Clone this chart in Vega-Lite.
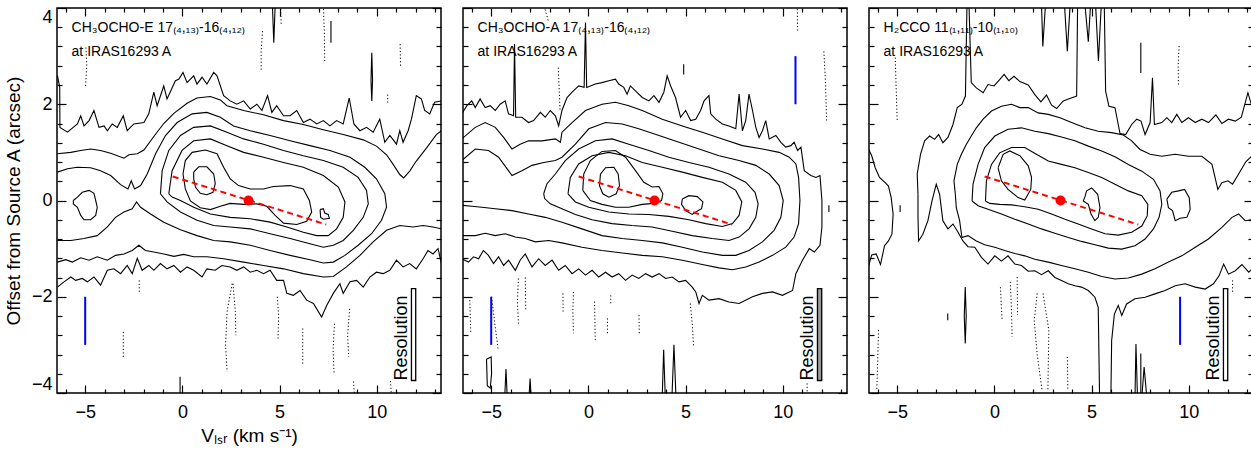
{
"$schema":"https://vega.github.io/schema/vega-lite/v6.json",
"padding":{"left":3,"top":6,"right":0,"bottom":0},
"spacing":18,
"config":{"view":{"stroke":"black","strokeWidth":1.5},"axis":{"domain":false,"grid":false,"labelColor":"black","tickColor":"black","labelFont":"Liberation Sans","titleFont":"Liberation Sans","labelFontSize":18,"titleFontSize":19,"titleFontWeight":"normal","titleColor":"black","tickWidth":1.2,"labelOverlap":false,"labelBound":false},"text":{"font":"Liberation Sans"}},
"datasets":{
"red":[{"x":-0.5,"y":0.5},{"x":7.4,"y":-0.5}],
"dot":[{"x":3.4,"y":0}],
"res":[{"x":11.78,"x2":12.0,"y":-3.74,"y2":-1.83,"t":"Resolution","tx":11.53}],
"b1":[{"x":-5,"y":-2,"y2":-3}],
"b2":[{"x":10.65,"y":3,"y2":2},{"x":-5,"y":-2,"y2":-3}],
"b3":[{"x":9.55,"y":-2,"y2":-3}],
"t1":[{"t":"CH₃OCHO-E 17₍₄,₁₃₎-16₍₄,₁₂₎","x":-5.7,"y":3.5},{"t":"at IRAS16293 A","x":-5.7,"y":3.0}],
"t2":[{"t":"CH₃OCHO-A 17₍₄,₁₃₎-16₍₄,₁₂₎","x":-5.7,"y":3.5},{"t":"at IRAS16293 A","x":-5.7,"y":3.0}],
"t3":[{"t":"H₂CCO 11₍₁,₁₁₎-10₍₁,₁₀₎","x":-5.7,"y":3.5},{"t":"at IRAS16293 A","x":-5.7,"y":3.0}],
"c1":[
{"k":"At","x":-6.43,"y":2.6},{"k":"At","x":-6.31,"y":2.35},{"k":"At","x":-6.3,"y":1.52},{"k":"At","x":-5.91,"y":1.42},{"k":"At","x":-5.4,"y":1.59},{"k":"At","x":-5.23,"y":1.76},{"k":"At","x":-5.06,"y":1.55},{"k":"At","x":-4.8,"y":1.66},{"k":"At","x":-4.55,"y":1.87},{"k":"At","x":-4.29,"y":1.52},{"k":"At","x":-4.03,"y":1.55},{"k":"At","x":-3.86,"y":1.45},{"k":"At","x":-3.61,"y":1.59},{"k":"At","x":-3.35,"y":1.52},{"k":"At","x":-3.04,"y":1.76},{"k":"At","x":-2.84,"y":1.45},{"k":"At","x":-2.5,"y":1.59},{"k":"At","x":-1.98,"y":1.62},{"k":"At","x":-1.73,"y":1.8},{"k":"At","x":-1.47,"y":2.25},{"k":"At","x":-1.3,"y":1.97},{"k":"At","x":-0.96,"y":2.38},{"k":"At","x":-0.79,"y":2.11},{"k":"At","x":-0.36,"y":2.49},{"k":"At","x":-0.19,"y":2.52},{"k":"At","x":0.03,"y":2.66},{"k":"At","x":0.24,"y":2.45},{"k":"At","x":0.58,"y":2.59},{"k":"At","x":0.75,"y":2.42},{"k":"At","x":1.01,"y":2.56},{"k":"At","x":1.26,"y":2.42},{"k":"At","x":1.61,"y":2.66},{"k":"At","x":1.78,"y":2.59},{"k":"At","x":2.12,"y":2.18},{"k":"At","x":2.46,"y":2.07},{"k":"At","x":2.8,"y":2.0},{"k":"At","x":3.15,"y":2.07},{"k":"At","x":3.49,"y":1.9},{"k":"At","x":3.83,"y":2.0},{"k":"At","x":4.09,"y":1.87},{"k":"At","x":4.38,"y":2.18},{"k":"At","x":4.6,"y":1.83},{"k":"At","x":4.85,"y":1.97},{"k":"At","x":5.2,"y":1.76},{"k":"At","x":5.54,"y":1.76},{"k":"At","x":5.88,"y":1.87},{"k":"At","x":6.22,"y":1.62},{"k":"At","x":6.56,"y":1.69},{"k":"At","x":6.91,"y":1.59},{"k":"At","x":7.25,"y":1.66},{"k":"At","x":7.59,"y":1.55},{"k":"At","x":7.93,"y":1.66},{"k":"At","x":8.27,"y":1.59},{"k":"At","x":8.58,"y":2.13},{"k":"At","x":8.82,"y":1.59},{"k":"At","x":9.13,"y":1.45},{"k":"At","x":9.47,"y":1.52},{"k":"At","x":9.81,"y":1.42},{"k":"At","x":10.15,"y":1.69},{"k":"At","x":10.41,"y":1.21},{"k":"At","x":10.67,"y":1.35},{"k":"At","x":11.01,"y":1.17},{"k":"At","x":11.18,"y":1.45},{"k":"At","x":11.35,"y":1.21},{"k":"At","x":11.61,"y":1.45},{"k":"At","x":11.78,"y":1.69},{"k":"At","x":12.03,"y":2.18},{"k":"At","x":12.29,"y":2.11},{"k":"At","x":12.46,"y":1.87},{"k":"At","x":12.72,"y":1.8},{"k":"At","x":12.97,"y":2.04},{"k":"At","x":13.32,"y":2.07},
{"k":"Ab","x":-6.43,"y":-1.8},{"k":"Ab","x":-6.09,"y":-1.69},{"k":"Ab","x":-5.74,"y":-1.59},{"k":"Ab","x":-5.49,"y":-1.66},{"k":"Ab","x":-5.15,"y":-1.62},{"k":"Ab","x":-4.89,"y":-1.69},{"k":"Ab","x":-4.55,"y":-1.59},{"k":"Ab","x":-4.21,"y":-1.76},{"k":"Ab","x":-3.86,"y":-1.45},{"k":"Ab","x":-3.52,"y":-1.42},{"k":"Ab","x":-3.18,"y":-1.52},{"k":"Ab","x":-2.84,"y":-1.35},{"k":"Ab","x":-2.58,"y":-1.52},{"k":"Ab","x":-2.32,"y":-1.2},{"k":"Ab","x":-2.07,"y":-1.45},{"k":"Ab","x":-1.73,"y":-1.35},{"k":"Ab","x":-1.47,"y":-1.45},{"k":"Ab","x":-1.13,"y":-1.31},{"k":"Ab","x":-0.79,"y":-1.42},{"k":"Ab","x":-0.44,"y":-1.35},{"k":"Ab","x":-0.1,"y":-1.49},{"k":"Ab","x":0.24,"y":-1.38},{"k":"Ab","x":0.58,"y":-1.45},{"k":"Ab","x":1.01,"y":-1.59},{"k":"Ab","x":1.26,"y":-1.42},{"k":"Ab","x":1.69,"y":-1.45},{"k":"Ab","x":2.03,"y":-1.35},{"k":"Ab","x":2.46,"y":-1.38},{"k":"Ab","x":2.8,"y":-1.45},{"k":"Ab","x":3.15,"y":-1.38},{"k":"Ab","x":3.49,"y":-1.49},{"k":"Ab","x":3.83,"y":-1.45},{"k":"Ab","x":4.17,"y":-1.52},{"k":"Ab","x":4.51,"y":-1.45},{"k":"Ab","x":4.85,"y":-1.66},{"k":"Ab","x":5.2,"y":-1.66},{"k":"Ab","x":5.37,"y":-1.93},{"k":"Ab","x":5.71,"y":-1.97},{"k":"Ab","x":6.05,"y":-1.87},{"k":"Ab","x":6.39,"y":-2.07},{"k":"Ab","x":6.74,"y":-2.14},{"k":"Ab","x":7.16,"y":-2.42},{"k":"Ab","x":7.42,"y":-2.18},{"k":"Ab","x":7.76,"y":-1.93},{"k":"Ab","x":8.1,"y":-1.73},{"k":"Ab","x":8.27,"y":-1.93},{"k":"Ab","x":8.62,"y":-1.69},{"k":"Ab","x":8.96,"y":-1.66},{"k":"Ab","x":9.3,"y":-1.8},{"k":"Ab","x":9.64,"y":-1.59},{"k":"Ab","x":9.98,"y":-1.49},{"k":"Ab","x":10.32,"y":-1.52},{"k":"Ab","x":10.67,"y":-1.45},{"k":"Ab","x":11.01,"y":-1.24},{"k":"Ab","x":11.35,"y":-1.38},{"k":"Ab","x":11.69,"y":-1.31},{"k":"Ab","x":12.03,"y":-1.42},{"k":"Ab","x":12.38,"y":-1.21},{"k":"Ab","x":12.63,"y":-1.04},{"k":"Ab","x":12.89,"y":-1.11},{"k":"Ab","x":13.15,"y":-1.0},{"k":"Ab","x":13.32,"y":-1.31},
{"k":"Bt","x":-6.43,"y":0.97},{"k":"Bt","x":-5.74,"y":1.0},{"k":"Bt","x":-5.23,"y":1.04},{"k":"Bt","x":-4.72,"y":1.07},{"k":"Bt","x":-4.21,"y":1.04},{"k":"Bt","x":-3.69,"y":0.98},{"k":"Bt","x":-3.01,"y":0.88},{"k":"Bt","x":-2.75,"y":0.95},{"k":"Bt","x":-2.32,"y":0.97},{"k":"Bt","x":-1.98,"y":1.05},{"k":"Bt","x":-1.47,"y":1.33},{"k":"Bt","x":-0.96,"y":1.6},{"k":"Bt","x":-0.44,"y":1.81},{"k":"Bt","x":0.24,"y":2.02},{"k":"Bt","x":0.75,"y":2.13},{"k":"Bt","x":1.44,"y":2.16},{"k":"Bt","x":1.95,"y":2.09},{"k":"Bt","x":2.29,"y":1.97},{"k":"Bt","x":3.15,"y":1.87},{"k":"Bt","x":4.17,"y":1.78},{"k":"Bt","x":5.2,"y":1.66},{"k":"Bt","x":6.22,"y":1.58},{"k":"Bt","x":7.25,"y":1.47},{"k":"Bt","x":8.27,"y":1.37},{"k":"Bt","x":9.3,"y":1.26},{"k":"Bt","x":9.98,"y":1.13},{"k":"Bt","x":10.5,"y":0.95},{"k":"Bt","x":10.84,"y":0.75},{"k":"Bt","x":11.18,"y":0.54},{"k":"Bt","x":11.38,"y":0.47},{"k":"Bt","x":11.69,"y":0.61},{"k":"Bt","x":12.03,"y":0.82},{"k":"Bt","x":12.55,"y":1.09},{"k":"Bt","x":13.06,"y":1.37},{"k":"Bt","x":13.32,"y":1.45},
{"k":"Bb","x":-6.43,"y":-1.28},{"k":"Bb","x":-6.0,"y":-1.23},{"k":"Bb","x":-5.66,"y":-1.28},{"k":"Bb","x":-5.23,"y":-1.19},{"k":"Bb","x":-4.8,"y":-1.24},{"k":"Bb","x":-4.38,"y":-1.17},{"k":"Bb","x":-3.86,"y":-1.24},{"k":"Bb","x":-3.44,"y":-1.14},{"k":"Bb","x":-3.01,"y":-1.11},{"k":"Bb","x":-2.58,"y":-1.04},{"k":"Bb","x":-2.24,"y":-0.93},{"k":"Bb","x":-1.9,"y":-1.04},{"k":"Bb","x":-1.47,"y":-1.07},{"k":"Bb","x":-0.96,"y":-1.11},{"k":"Bb","x":-0.44,"y":-1.16},{"k":"Bb","x":0.07,"y":-1.12},{"k":"Bb","x":0.58,"y":-1.17},{"k":"Bb","x":1.26,"y":-1.17},{"k":"Bb","x":2.12,"y":-1.21},{"k":"Bb","x":3.15,"y":-1.28},{"k":"Bb","x":4.17,"y":-1.35},{"k":"Bb","x":5.2,"y":-1.42},{"k":"Bb","x":6.22,"y":-1.52},{"k":"Bb","x":7.25,"y":-1.59},{"k":"Bb","x":7.76,"y":-1.58},{"k":"Bb","x":8.44,"y":-1.38},{"k":"Bb","x":9.13,"y":-1.14},{"k":"Bb","x":9.81,"y":-0.86},{"k":"Bb","x":10.5,"y":-0.62},{"k":"Bb","x":11.18,"y":-0.52},{"k":"Bb","x":11.86,"y":-0.55},{"k":"Bb","x":12.38,"y":-0.52},{"k":"Bb","x":12.89,"y":-0.55},{"k":"Bb","x":13.32,"y":-0.59},
{"k":"C","x":-6.43,"y":0.59},{"k":"C","x":-5.91,"y":0.66},{"k":"C","x":-5.4,"y":0.69},{"k":"C","x":-4.72,"y":0.68},{"k":"C","x":-4.21,"y":0.62},{"k":"C","x":-3.69,"y":0.52},{"k":"C","x":-3.18,"y":0.33},{"k":"C","x":-2.8,"y":0.24},{"k":"C","x":-2.63,"y":0.41},{"k":"C","x":-2.46,"y":0.24},{"k":"C","x":-2.15,"y":0.31},{"k":"C","x":-1.81,"y":0.55},{"k":"C","x":-1.38,"y":0.97},{"k":"C","x":-0.87,"y":1.35},{"k":"C","x":-0.27,"y":1.62},{"k":"C","x":0.5,"y":1.8},{"k":"C","x":1.26,"y":1.83},{"k":"C","x":1.95,"y":1.73},{"k":"C","x":2.63,"y":1.55},{"k":"C","x":3.49,"y":1.45},{"k":"C","x":4.51,"y":1.35},{"k":"C","x":5.54,"y":1.24},{"k":"C","x":6.56,"y":1.14},{"k":"C","x":7.59,"y":1.04},{"k":"C","x":8.62,"y":0.9},{"k":"C","x":9.38,"y":0.69},{"k":"C","x":9.98,"y":0.45},{"k":"C","x":10.41,"y":0.14},{"k":"C","x":10.5,"y":-0.14},{"k":"C","x":10.24,"y":-0.41},{"k":"C","x":9.73,"y":-0.69},{"k":"C","x":9.04,"y":-0.93},{"k":"C","x":8.36,"y":-1.14},{"k":"C","x":7.76,"y":-1.28},{"k":"C","x":7.25,"y":-1.3},{"k":"C","x":6.56,"y":-1.23},{"k":"C","x":5.54,"y":-1.14},{"k":"C","x":4.51,"y":-1.04},{"k":"C","x":3.49,"y":-0.93},{"k":"C","x":2.46,"y":-0.86},{"k":"C","x":1.61,"y":-0.83},{"k":"C","x":0.75,"y":-0.73},{"k":"C","x":-0.1,"y":-0.61},{"k":"C","x":-0.96,"y":-0.45},{"k":"C","x":-1.64,"y":-0.28},{"k":"C","x":-2.15,"y":-0.14},{"k":"C","x":-2.36,"y":-0.03},{"k":"C","x":-2.58,"y":-0.17},{"k":"C","x":-3.01,"y":-0.24},{"k":"C","x":-3.44,"y":-0.35},{"k":"C","x":-3.86,"y":-0.55},{"k":"C","x":-4.38,"y":-0.73},{"k":"C","x":-5.06,"y":-0.79},{"k":"C","x":-5.74,"y":-0.83},{"k":"C","x":-6.43,"y":-0.83},
{"k":"D","x":-1.13,"y":0.14},{"k":"D","x":-1.04,"y":0.62},{"k":"D","x":-0.7,"y":1.04},{"k":"D","x":-0.1,"y":1.35},{"k":"D","x":0.58,"y":1.52},{"k":"D","x":1.44,"y":1.55},{"k":"D","x":2.29,"y":1.42},{"k":"D","x":3.15,"y":1.28},{"k":"D","x":4.17,"y":1.17},{"k":"D","x":5.2,"y":1.04},{"k":"D","x":6.22,"y":0.93},{"k":"D","x":7.25,"y":0.83},{"k":"D","x":8.27,"y":0.69},{"k":"D","x":9.04,"y":0.48},{"k":"D","x":9.47,"y":0.21},{"k":"D","x":9.56,"y":-0.07},{"k":"D","x":9.3,"y":-0.35},{"k":"D","x":8.79,"y":-0.62},{"k":"D","x":8.27,"y":-0.83},{"k":"D","x":7.76,"y":-0.93},{"k":"D","x":7.25,"y":-0.97},{"k":"D","x":6.56,"y":-0.9},{"k":"D","x":5.54,"y":-0.79},{"k":"D","x":4.51,"y":-0.69},{"k":"D","x":3.49,"y":-0.59},{"k":"D","x":2.46,"y":-0.55},{"k":"D","x":1.61,"y":-0.52},{"k":"D","x":0.75,"y":-0.41},{"k":"D","x":-0.1,"y":-0.24},{"k":"D","x":-0.79,"y":-0.03},{"k":"D","x":-1.13,"y":0.14},
{"k":"E","x":-0.7,"y":0.14},{"k":"E","x":-0.53,"y":0.62},{"k":"E","x":-0.02,"y":1.04},{"k":"E","x":0.58,"y":1.24},{"k":"E","x":1.44,"y":1.28},{"k":"E","x":2.29,"y":1.14},{"k":"E","x":3.15,"y":1.0},{"k":"E","x":4.17,"y":0.9},{"k":"E","x":5.2,"y":0.79},{"k":"E","x":6.22,"y":0.69},{"k":"E","x":7.25,"y":0.52},{"k":"E","x":8.02,"y":0.28},{"k":"E","x":8.36,"y":-0.03},{"k":"E","x":8.27,"y":-0.35},{"k":"E","x":7.93,"y":-0.59},{"k":"E","x":7.5,"y":-0.73},{"k":"E","x":6.91,"y":-0.73},{"k":"E","x":6.22,"y":-0.66},{"k":"E","x":5.37,"y":-0.55},{"k":"E","x":4.51,"y":-0.45},{"k":"E","x":3.49,"y":-0.38},{"k":"E","x":2.46,"y":-0.35},{"k":"E","x":1.44,"y":-0.28},{"k":"E","x":0.58,"y":-0.14},{"k":"E","x":-0.1,"y":0.0},{"k":"E","x":-0.53,"y":0.07},{"k":"E","x":-0.7,"y":0.14},
{"k":"F","x":0.03,"y":0.55},{"k":"F","x":0.15,"y":0.83},{"k":"F","x":0.5,"y":1.0},{"k":"F","x":1.18,"y":1.05},{"k":"F","x":1.78,"y":0.97},{"k":"F","x":2.12,"y":0.69},{"k":"F","x":2.46,"y":0.45},{"k":"F","x":2.89,"y":0.31},{"k":"F","x":3.49,"y":0.24},{"k":"F","x":4.17,"y":0.24},{"k":"F","x":4.68,"y":0.29},{"k":"F","x":5.54,"y":0.31},{"k":"F","x":6.22,"y":0.24},{"k":"F","x":6.53,"y":0.0},{"k":"F","x":6.65,"y":-0.24},{"k":"F","x":6.39,"y":-0.43},{"k":"F","x":5.88,"y":-0.5},{"k":"F","x":5.2,"y":-0.47},{"k":"F","x":4.77,"y":-0.31},{"k":"F","x":4.34,"y":-0.12},{"k":"F","x":3.83,"y":-0.07},{"k":"F","x":3.15,"y":-0.08},{"k":"F","x":2.46,"y":-0.06},{"k":"F","x":1.95,"y":-0.12},{"k":"F","x":1.44,"y":-0.19},{"k":"F","x":0.92,"y":-0.15},{"k":"F","x":0.41,"y":-0.01},{"k":"F","x":0.15,"y":0.24},{"k":"F","x":0.03,"y":0.55},
{"k":"G1","x":0.58,"y":0.59},{"k":"G1","x":0.84,"y":0.7},{"k":"G1","x":1.26,"y":0.7},{"k":"G1","x":1.61,"y":0.55},{"k":"G1","x":1.69,"y":0.35},{"k":"G1","x":1.57,"y":0.17},{"k":"G1","x":1.26,"y":0.12},{"k":"G1","x":0.92,"y":0.15},{"k":"G1","x":0.67,"y":0.28},{"k":"G1","x":0.58,"y":0.45},{"k":"G1","x":0.58,"y":0.59},
{"k":"G2","x":7.08,"y":-0.19},{"k":"G2","x":7.25,"y":-0.17},{"k":"G2","x":7.32,"y":-0.26},{"k":"G2","x":7.5,"y":-0.29},{"k":"G2","x":7.56,"y":-0.37},{"k":"G2","x":7.25,"y":-0.39},{"k":"G2","x":7.11,"y":-0.35},{"k":"G2","x":7.08,"y":-0.19},
{"k":"I","x":-5.61,"y":0.0},{"k":"I","x":-5.4,"y":0.07},{"k":"I","x":-5.15,"y":0.17},{"k":"I","x":-4.8,"y":0.21},{"k":"I","x":-4.55,"y":0.15},{"k":"I","x":-4.46,"y":0.0},{"k":"I","x":-4.38,"y":-0.14},{"k":"I","x":-4.46,"y":-0.31},{"k":"I","x":-4.72,"y":-0.4},{"k":"I","x":-5.06,"y":-0.4},{"k":"I","x":-5.23,"y":-0.31},{"k":"I","x":-5.4,"y":-0.14},{"k":"I","x":-5.61,"y":-0.07},{"k":"I","x":-5.61,"y":0.0},
{"k":"s1","x":4.63,"y":4.05},{"k":"s1","x":4.7,"y":3.28},{"k":"s1","x":4.77,"y":4.05},
{"k":"s2","x":7.64,"y":3.73},{"k":"s2","x":7.64,"y":3.28},
{"k":"s3","x":9.74,"y":3.07},{"k":"s3","x":9.78,"y":2.5},{"k":"s3","x":9.74,"y":2.07},{"k":"s3","x":9.7,"y":2.5},{"k":"s3","x":9.74,"y":3.07},
{"k":"s4","x":-0.12,"y":-3.66},{"k":"s4","x":-0.12,"y":-4.05}
],
"n1":[
{"k":"d1","x":-4.96,"y":3.18},{"k":"d1","x":-4.92,"y":2.8},{"k":"d1","x":-4.98,"y":2.38},
{"k":"d2","x":4.12,"y":3.52},{"k":"d2","x":4.05,"y":3.1},{"k":"d2","x":4.05,"y":2.69},
{"k":"d3","x":5.05,"y":4.05},{"k":"d3","x":5.08,"y":3.66},
{"k":"d4","x":7.25,"y":4.05},{"k":"d4","x":7.3,"y":3.5},{"k":"d4","x":7.32,"y":2.9},
{"k":"d5","x":11.2,"y":3.25},{"k":"d5","x":11.22,"y":2.76},
{"k":"d6","x":10.56,"y":2.2},{"k":"d6","x":10.56,"y":2.0},
{"k":"d7","x":-2.22,"y":-1.66},{"k":"d7","x":-2.22,"y":-1.93},
{"k":"d8","x":-3.04,"y":-2.73},{"k":"d8","x":-3.04,"y":-3.25},
{"k":"d9","x":2.56,"y":-1.73},{"k":"d9","x":2.3,"y":-2.3},{"k":"d9","x":2.22,"y":-3.0},{"k":"d9","x":2.3,"y":-3.56},
{"k":"d9b","x":2.6,"y":-1.73},{"k":"d9b","x":2.72,"y":-2.3},{"k":"d9b","x":2.75,"y":-2.8},
{"k":"d10","x":4.88,"y":-2.0},{"k":"d10","x":4.95,"y":-2.4},{"k":"d10","x":4.92,"y":-2.87},
{"k":"d11","x":6.19,"y":-2.66},{"k":"d11","x":6.19,"y":-3.42},
{"k":"d12","x":7.82,"y":-2.56},{"k":"d12","x":7.75,"y":-3.1},{"k":"d12","x":7.8,"y":-3.6},
{"k":"d13","x":8.6,"y":-2.25},{"k":"d13","x":8.5,"y":-2.8},{"k":"d13","x":8.55,"y":-3.25},
{"k":"d14","x":8.8,"y":-3.76},{"k":"d14","x":8.85,"y":-4.05},
{"k":"d15","x":10.7,"y":-3.75},{"k":"d15","x":10.75,"y":-4.05}
],
"c2":[
{"k":"A","x":-6.51,"y":1.8},{"k":"A","x":-6.25,"y":1.97},{"k":"A","x":-6.0,"y":2.07},{"k":"A","x":-5.82,"y":1.93},{"k":"A","x":-5.57,"y":2.11},{"k":"A","x":-5.31,"y":1.93},{"k":"A","x":-5.05,"y":1.97},{"k":"A","x":-4.79,"y":1.87},{"k":"A","x":-4.54,"y":2.0},{"k":"A","x":-4.28,"y":2.07},{"k":"A","x":-4.11,"y":1.8},{"k":"A","x":-3.85,"y":1.76},{"k":"A","x":-3.8,"y":3.25},{"k":"A","x":-3.74,"y":1.73},{"k":"A","x":-3.42,"y":1.73},{"k":"A","x":-3.08,"y":1.62},{"k":"A","x":-2.82,"y":1.66},{"k":"A","x":-2.47,"y":1.83},{"k":"A","x":-2.22,"y":1.73},{"k":"A","x":-1.96,"y":1.87},{"k":"A","x":-1.7,"y":1.76},{"k":"A","x":-1.53,"y":1.55},{"k":"A","x":-1.36,"y":1.87},{"k":"A","x":-1.1,"y":2.14},{"k":"A","x":-0.84,"y":2.25},{"k":"A","x":-0.5,"y":2.38},{"k":"A","x":-0.22,"y":2.35},{"k":"A","x":-0.15,"y":3.7},{"k":"A","x":-0.09,"y":2.35},{"k":"A","x":0.36,"y":2.42},{"k":"A","x":0.7,"y":2.45},{"k":"A","x":1.05,"y":2.49},{"k":"A","x":1.39,"y":2.52},{"k":"A","x":1.56,"y":2.42},{"k":"A","x":1.82,"y":2.35},{"k":"A","x":1.99,"y":2.21},{"k":"A","x":2.16,"y":2.38},{"k":"A","x":2.42,"y":2.28},{"k":"A","x":2.77,"y":2.14},{"k":"A","x":3.11,"y":2.07},{"k":"A","x":3.37,"y":2.18},{"k":"A","x":3.63,"y":2.04},{"k":"A","x":3.88,"y":2.25},{"k":"A","x":4.05,"y":2.59},{"k":"A","x":4.23,"y":2.38},{"k":"A","x":4.48,"y":2.14},{"k":"A","x":4.74,"y":1.73},{"k":"A","x":5.0,"y":1.87},{"k":"A","x":5.26,"y":1.66},{"k":"A","x":5.52,"y":1.69},{"k":"A","x":5.77,"y":1.87},{"k":"A","x":5.95,"y":2.07},{"k":"A","x":6.2,"y":2.18},{"k":"A","x":6.29,"y":1.8},{"k":"A","x":6.55,"y":1.69},{"k":"A","x":6.89,"y":1.59},{"k":"A","x":7.23,"y":1.55},{"k":"A","x":7.58,"y":1.49},{"k":"A","x":7.75,"y":2.21},{"k":"A","x":7.92,"y":1.45},{"k":"A","x":8.09,"y":1.66},{"k":"A","x":8.26,"y":2.21},{"k":"A","x":8.44,"y":1.87},{"k":"A","x":8.61,"y":1.52},{"k":"A","x":8.78,"y":1.31},{"k":"A","x":8.95,"y":1.45},{"k":"A","x":9.12,"y":1.66},{"k":"A","x":9.3,"y":1.28},{"k":"A","x":9.64,"y":1.35},{"k":"A","x":9.9,"y":1.21},{"k":"A","x":10.15,"y":1.11},{"k":"A","x":10.41,"y":1.14},{"k":"A","x":10.58,"y":1.21},{"k":"A","x":10.76,"y":1.04},{"k":"A","x":10.93,"y":1.11},{"k":"A","x":11.1,"y":0.62},{"k":"A","x":11.44,"y":0.52},{"k":"A","x":11.7,"y":0.48},{"k":"A","x":11.91,"y":0.52},{"k":"A","x":12.01,"y":0.0},{"k":"A","x":12.01,"y":-0.55},{"k":"A","x":11.91,"y":-0.93},{"k":"A","x":11.62,"y":-1.07},{"k":"A","x":11.36,"y":-1.0},{"k":"A","x":11.01,"y":-1.24},{"k":"A","x":10.67,"y":-1.52},{"k":"A","x":10.5,"y":-1.87},{"k":"A","x":9.98,"y":-1.97},{"k":"A","x":9.47,"y":-1.9},{"k":"A","x":8.95,"y":-1.93},{"k":"A","x":8.44,"y":-2.0},{"k":"A","x":7.75,"y":-2.14},{"k":"A","x":7.23,"y":-2.11},{"k":"A","x":6.72,"y":-2.04},{"k":"A","x":6.2,"y":-2.07},{"k":"A","x":5.86,"y":-1.97},{"k":"A","x":5.69,"y":-2.14},{"k":"A","x":5.52,"y":-1.9},{"k":"A","x":5.34,"y":-1.8},{"k":"A","x":5.0,"y":-1.66},{"k":"A","x":4.66,"y":-1.69},{"k":"A","x":4.31,"y":-1.59},{"k":"A","x":3.97,"y":-1.62},{"k":"A","x":3.63,"y":-1.52},{"k":"A","x":3.28,"y":-1.59},{"k":"A","x":2.94,"y":-1.52},{"k":"A","x":2.59,"y":-1.62},{"k":"A","x":2.25,"y":-1.55},{"k":"A","x":1.91,"y":-1.66},{"k":"A","x":1.56,"y":-1.52},{"k":"A","x":1.22,"y":-1.59},{"k":"A","x":0.88,"y":-1.49},{"k":"A","x":0.53,"y":-1.59},{"k":"A","x":0.19,"y":-1.45},{"k":"A","x":-0.15,"y":-1.55},{"k":"A","x":-0.5,"y":-1.42},{"k":"A","x":-0.84,"y":-1.52},{"k":"A","x":-1.19,"y":-1.35},{"k":"A","x":-1.53,"y":-1.45},{"k":"A","x":-1.87,"y":-1.24},{"k":"A","x":-2.22,"y":-1.35},{"k":"A","x":-2.56,"y":-1.21},{"k":"A","x":-2.9,"y":-1.38},{"k":"A","x":-3.25,"y":-1.11},{"k":"A","x":-3.51,"y":-1.24},{"k":"A","x":-3.76,"y":-1.45},{"k":"A","x":-4.11,"y":-1.24},{"k":"A","x":-4.36,"y":-1.35},{"k":"A","x":-4.62,"y":-1.17},{"k":"A","x":-4.88,"y":-1.31},{"k":"A","x":-5.14,"y":-1.14},{"k":"A","x":-5.4,"y":-1.04},{"k":"A","x":-5.65,"y":-1.21},{"k":"A","x":-5.91,"y":-1.17},{"k":"A","x":-6.17,"y":-1.28},{"k":"A","x":-6.51,"y":-1.21},
{"k":"B","x":-6.51,"y":1.28},{"k":"B","x":-5.82,"y":1.52},{"k":"B","x":-5.31,"y":1.62},{"k":"B","x":-4.79,"y":1.52},{"k":"B","x":-4.36,"y":1.31},{"k":"B","x":-3.93,"y":1.07},{"k":"B","x":-3.51,"y":1.17},{"k":"B","x":-3.08,"y":1.24},{"k":"B","x":-2.39,"y":1.24},{"k":"B","x":-1.7,"y":1.28},{"k":"B","x":-1.44,"y":1.21},{"k":"B","x":-1.36,"y":1.42},{"k":"B","x":-0.84,"y":1.62},{"k":"B","x":-0.15,"y":1.87},{"k":"B","x":0.7,"y":2.0},{"k":"B","x":1.39,"y":2.04},{"k":"B","x":2.08,"y":1.97},{"k":"B","x":2.77,"y":1.87},{"k":"B","x":3.8,"y":1.69},{"k":"B","x":4.83,"y":1.55},{"k":"B","x":5.86,"y":1.42},{"k":"B","x":6.89,"y":1.28},{"k":"B","x":7.92,"y":1.14},{"k":"B","x":8.95,"y":1.07},{"k":"B","x":9.81,"y":1.0},{"k":"B","x":10.33,"y":0.9},{"k":"B","x":10.67,"y":0.76},{"k":"B","x":10.81,"y":0.48},{"k":"B","x":10.88,"y":0.0},{"k":"B","x":10.81,"y":-0.48},{"k":"B","x":10.58,"y":-0.76},{"k":"B","x":10.15,"y":-0.97},{"k":"B","x":9.47,"y":-1.14},{"k":"B","x":8.78,"y":-1.28},{"k":"B","x":8.09,"y":-1.38},{"k":"B","x":7.41,"y":-1.44},{"k":"B","x":6.72,"y":-1.4},{"k":"B","x":5.86,"y":-1.33},{"k":"B","x":4.83,"y":-1.24},{"k":"B","x":3.8,"y":-1.17},{"k":"B","x":2.77,"y":-1.14},{"k":"B","x":1.74,"y":-1.09},{"k":"B","x":0.7,"y":-1.04},{"k":"B","x":-0.33,"y":-0.97},{"k":"B","x":-1.36,"y":-0.88},{"k":"B","x":-2.04,"y":-0.83},{"k":"B","x":-2.73,"y":-0.86},{"k":"B","x":-3.25,"y":-0.79},{"k":"B","x":-3.76,"y":-0.76},{"k":"B","x":-4.28,"y":-0.69},{"k":"B","x":-4.79,"y":-0.73},{"k":"B","x":-5.31,"y":-0.68},{"k":"B","x":-5.82,"y":-0.73},{"k":"B","x":-6.51,"y":-0.73},
{"k":"C","x":-6.51,"y":0.83},{"k":"C","x":-5.82,"y":1.07},{"k":"C","x":-5.14,"y":1.04},{"k":"C","x":-4.62,"y":0.9},{"k":"C","x":-3.93,"y":0.52},{"k":"C","x":-3.42,"y":0.62},{"k":"C","x":-2.9,"y":0.73},{"k":"C","x":-2.3,"y":0.79},{"k":"C","x":-1.7,"y":0.83},{"k":"C","x":-1.36,"y":0.9},{"k":"C","x":-0.67,"y":1.17},{"k":"C","x":0.02,"y":1.49},{"k":"C","x":0.88,"y":1.62},{"k":"C","x":1.74,"y":1.59},{"k":"C","x":2.59,"y":1.49},{"k":"C","x":3.63,"y":1.35},{"k":"C","x":4.66,"y":1.21},{"k":"C","x":5.69,"y":1.07},{"k":"C","x":6.72,"y":0.93},{"k":"C","x":7.75,"y":0.83},{"k":"C","x":8.61,"y":0.73},{"k":"C","x":9.3,"y":0.55},{"k":"C","x":9.81,"y":0.31},{"k":"C","x":10.02,"y":0.0},{"k":"C","x":9.9,"y":-0.35},{"k":"C","x":9.55,"y":-0.62},{"k":"C","x":8.95,"y":-0.86},{"k":"C","x":8.26,"y":-1.04},{"k":"C","x":7.58,"y":-1.14},{"k":"C","x":6.89,"y":-1.14},{"k":"C","x":5.86,"y":-1.07},{"k":"C","x":4.83,"y":-0.97},{"k":"C","x":3.8,"y":-0.88},{"k":"C","x":2.77,"y":-0.83},{"k":"C","x":1.74,"y":-0.79},{"k":"C","x":0.7,"y":-0.73},{"k":"C","x":-0.33,"y":-0.59},{"k":"C","x":-1.36,"y":-0.45},{"k":"C","x":-2.22,"y":-0.35},{"k":"C","x":-3.08,"y":-0.28},{"k":"C","x":-3.93,"y":-0.21},{"k":"C","x":-4.79,"y":-0.17},{"k":"C","x":-5.48,"y":-0.14},{"k":"C","x":-6.0,"y":-0.12},{"k":"C","x":-6.51,"y":-0.1},
{"k":"D","x":-2.3,"y":0.14},{"k":"D","x":-2.13,"y":0.35},{"k":"D","x":-1.7,"y":0.55},{"k":"D","x":-1.19,"y":0.83},{"k":"D","x":-0.5,"y":1.07},{"k":"D","x":0.36,"y":1.24},{"k":"D","x":1.22,"y":1.28},{"k":"D","x":2.08,"y":1.17},{"k":"D","x":3.11,"y":1.04},{"k":"D","x":4.14,"y":0.9},{"k":"D","x":5.17,"y":0.79},{"k":"D","x":6.2,"y":0.69},{"k":"D","x":7.23,"y":0.55},{"k":"D","x":8.09,"y":0.38},{"k":"D","x":8.57,"y":0.17},{"k":"D","x":8.73,"y":-0.07},{"k":"D","x":8.61,"y":-0.35},{"k":"D","x":8.26,"y":-0.59},{"k":"D","x":7.75,"y":-0.76},{"k":"D","x":7.23,"y":-0.83},{"k":"D","x":6.37,"y":-0.79},{"k":"D","x":5.34,"y":-0.73},{"k":"D","x":4.31,"y":-0.64},{"k":"D","x":3.28,"y":-0.55},{"k":"D","x":2.25,"y":-0.52},{"k":"D","x":1.22,"y":-0.48},{"k":"D","x":0.19,"y":-0.4},{"k":"D","x":-0.67,"y":-0.29},{"k":"D","x":-1.36,"y":-0.17},{"k":"D","x":-1.96,"y":-0.07},{"k":"D","x":-2.25,"y":0.04},{"k":"D","x":-2.3,"y":0.14},
{"k":"E","x":-1.05,"y":0.14},{"k":"E","x":-0.93,"y":0.48},{"k":"E","x":-0.5,"y":0.76},{"k":"E","x":0.19,"y":0.93},{"k":"E","x":1.05,"y":1.0},{"k":"E","x":1.91,"y":0.93},{"k":"E","x":2.77,"y":0.79},{"k":"E","x":3.8,"y":0.69},{"k":"E","x":4.83,"y":0.59},{"k":"E","x":5.86,"y":0.48},{"k":"E","x":6.89,"y":0.38},{"k":"E","x":7.58,"y":0.21},{"k":"E","x":7.89,"y":-0.03},{"k":"E","x":7.75,"y":-0.31},{"k":"E","x":7.41,"y":-0.48},{"k":"E","x":6.89,"y":-0.54},{"k":"E","x":6.03,"y":-0.48},{"k":"E","x":5.17,"y":-0.4},{"k":"E","x":4.14,"y":-0.33},{"k":"E","x":3.11,"y":-0.29},{"k":"E","x":2.08,"y":-0.28},{"k":"E","x":1.05,"y":-0.24},{"k":"E","x":0.02,"y":-0.14},{"k":"E","x":-0.67,"y":-0.03},{"k":"E","x":-1.05,"y":0.14},
{"k":"F","x":-0.29,"y":0.21},{"k":"F","x":-0.24,"y":0.55},{"k":"F","x":0.1,"y":0.83},{"k":"F","x":0.7,"y":1.02},{"k":"F","x":1.39,"y":1.04},{"k":"F","x":1.91,"y":0.9},{"k":"F","x":2.42,"y":0.62},{"k":"F","x":2.85,"y":0.38},{"k":"F","x":3.28,"y":0.28},{"k":"F","x":3.63,"y":0.29},{"k":"F","x":3.83,"y":0.14},{"k":"F","x":3.76,"y":0.0},{"k":"F","x":3.37,"y":-0.06},{"k":"F","x":2.77,"y":-0.08},{"k":"F","x":2.08,"y":-0.14},{"k":"F","x":1.39,"y":-0.14},{"k":"F","x":0.7,"y":-0.08},{"k":"F","x":0.1,"y":0.0},{"k":"F","x":-0.29,"y":0.21},
{"k":"G1","x":0.62,"y":0.55},{"k":"G1","x":0.88,"y":0.68},{"k":"G1","x":1.31,"y":0.69},{"k":"G1","x":1.53,"y":0.55},{"k":"G1","x":1.6,"y":0.31},{"k":"G1","x":1.43,"y":0.14},{"k":"G1","x":1.05,"y":0.07},{"k":"G1","x":0.74,"y":0.14},{"k":"G1","x":0.57,"y":0.31},{"k":"G1","x":0.62,"y":0.55},
{"k":"G2","x":4.83,"y":0.03},{"k":"G2","x":5.17,"y":0.1},{"k":"G2","x":5.6,"y":0.08},{"k":"G2","x":5.89,"y":-0.03},{"k":"G2","x":5.82,"y":-0.17},{"k":"G2","x":5.52,"y":-0.24},{"k":"G2","x":5.34,"y":-0.29},{"k":"G2","x":5.0,"y":-0.21},{"k":"G2","x":4.79,"y":-0.08},{"k":"G2","x":4.83,"y":0.03},
{"k":"s1","x":4.9,"y":2.83},{"k":"s1","x":4.9,"y":2.62},
{"k":"s2","x":12.37,"y":-0.1},{"k":"s2","x":12.37,"y":-0.24},
{"k":"s3","x":-5.24,"y":-3.3},{"k":"s3","x":-5.0,"y":-3.25},{"k":"s3","x":-4.98,"y":-3.6},{"k":"s3","x":-5.05,"y":-3.9},{"k":"s3","x":-5.2,"y":-3.85},{"k":"s3","x":-5.24,"y":-3.3},
{"k":"s4","x":-4.3,"y":-4.05},{"k":"s4","x":-4.24,"y":-3.5},{"k":"s4","x":-4.18,"y":-4.05},
{"k":"s5","x":-3.05,"y":-4.05},{"k":"s5","x":-3.0,"y":-3.7},{"k":"s5","x":-2.95,"y":-4.05},
{"k":"s6","x":3.8,"y":-4.05},{"k":"s6","x":3.87,"y":-3.1},{"k":"s6","x":3.95,"y":-4.05},
{"k":"s7","x":4.3,"y":-4.05},{"k":"s7","x":4.4,"y":-3.0},{"k":"s7","x":4.5,"y":-4.05}
],
"n2":[
{"k":"d1","x":-2.23,"y":3.97},{"k":"d1","x":-2.06,"y":3.73},
{"k":"d2","x":-1.55,"y":2.76},{"k":"d2","x":-1.5,"y":2.3},{"k":"d2","x":-1.46,"y":1.87},
{"k":"d3","x":10.74,"y":4.05},{"k":"d3","x":10.76,"y":3.52},
{"k":"d4","x":12.11,"y":3.1},{"k":"d4","x":12.2,"y":2.4},{"k":"d4","x":12.25,"y":1.66},
{"k":"d5","x":-6.1,"y":-2.07},{"k":"d5","x":-6.05,"y":-2.76},
{"k":"d6","x":-4.98,"y":-2.0},{"k":"d6","x":-4.8,"y":-2.6},{"k":"d6","x":-4.64,"y":-3.1},
{"k":"d7","x":-3.6,"y":-1.62},{"k":"d7","x":-3.65,"y":-2.1},{"k":"d7","x":-3.6,"y":-2.56},
{"k":"d8","x":-3.25,"y":-1.6},{"k":"d8","x":-3.22,"y":-2.3},
{"k":"d9","x":-1.31,"y":-1.93},{"k":"d9","x":-1.3,"y":-2.35},
{"k":"d10","x":-0.77,"y":-1.9},{"k":"d10","x":-0.8,"y":-2.3},{"k":"d10","x":-0.77,"y":-2.76},
{"k":"d11","x":0.32,"y":-2.1},{"k":"d11","x":0.35,"y":-2.9},
{"k":"d12","x":0.98,"y":-2.45},{"k":"d12","x":0.98,"y":-2.8},
{"k":"d13","x":1.15,"y":-1.97},{"k":"d13","x":1.15,"y":-2.18},
{"k":"d14","x":2.6,"y":-2.38},{"k":"d14","x":2.62,"y":-2.8},
{"k":"d15","x":5.24,"y":-2.14},{"k":"d15","x":5.35,"y":-2.6},{"k":"d15","x":5.41,"y":-3.04},
{"k":"d16","x":11.25,"y":-3.8},{"k":"d16","x":11.25,"y":-4.05}
],
"c3":[
{"k":"At","x":-3.93,"y":0.13},{"k":"At","x":-3.97,"y":0.55},{"k":"At","x":-3.8,"y":0.96},{"k":"At","x":-3.59,"y":1.24},{"k":"At","x":-3.33,"y":1.34},{"k":"At","x":-3.08,"y":1.27},{"k":"At","x":-2.87,"y":1.37},{"k":"At","x":-2.65,"y":1.2},{"k":"At","x":-2.39,"y":1.31},{"k":"At","x":-2.13,"y":1.58},{"k":"At","x":-1.91,"y":1.93},{"k":"At","x":-1.67,"y":2.0},{"k":"At","x":-1.49,"y":2.17},{"k":"At","x":-1.41,"y":4.1},{"k":"At","x":-1.31,"y":4.1},{"k":"At","x":-1.19,"y":2.45},{"k":"At","x":-0.93,"y":2.34},{"k":"At","x":-0.58,"y":2.24},{"k":"At","x":-0.33,"y":2.41},{"k":"At","x":-0.02,"y":2.38},{"k":"At","x":0.27,"y":2.51},{"k":"At","x":0.5,"y":2.62},{"k":"At","x":0.74,"y":2.49},{"k":"At","x":1.01,"y":2.58},{"k":"At","x":1.31,"y":2.47},{"k":"At","x":1.74,"y":2.4},{"k":"At","x":2.08,"y":2.2},{"k":"At","x":2.39,"y":2.05},{"k":"At","x":2.68,"y":2.19},{"k":"At","x":2.94,"y":1.98},{"k":"At","x":3.2,"y":1.91},{"k":"At","x":3.54,"y":2.07},{"k":"At","x":3.88,"y":2.12},{"k":"At","x":4.23,"y":2.17},{"k":"At","x":4.28,"y":4.1},{"k":"At","x":5.65,"y":4.1},{"k":"At","x":5.72,"y":2.27},{"k":"At","x":5.89,"y":1.96},{"k":"At","x":6.2,"y":1.93},{"k":"At","x":6.46,"y":1.39},{"k":"At","x":6.75,"y":1.37},{"k":"At","x":7.06,"y":1.58},{"k":"At","x":7.32,"y":1.69},{"k":"At","x":7.54,"y":1.65},{"k":"At","x":7.75,"y":1.37},{"k":"At","x":8.01,"y":1.62},{"k":"At","x":8.13,"y":2.55},{"k":"At","x":8.23,"y":1.58},{"k":"At","x":8.61,"y":1.62},{"k":"At","x":8.87,"y":1.72},{"k":"At","x":9.12,"y":1.62},{"k":"At","x":9.38,"y":1.79},{"k":"At","x":9.64,"y":1.62},{"k":"At","x":9.98,"y":1.72},{"k":"At","x":10.33,"y":1.62},{"k":"At","x":10.67,"y":1.69},{"k":"At","x":11.01,"y":1.62},{"k":"At","x":11.39,"y":1.78},{"k":"At","x":11.7,"y":1.6},{"k":"At","x":12.04,"y":1.69},{"k":"At","x":12.39,"y":1.65},{"k":"At","x":12.7,"y":1.73},{"k":"At","x":13.04,"y":2.24},{"k":"At","x":13.21,"y":2.0},{"k":"At","x":13.33,"y":2.03},
{"k":"Ab","x":-3.93,"y":0.13},{"k":"Ab","x":-3.93,"y":-0.35},{"k":"Ab","x":-3.9,"y":-0.84},{"k":"Ab","x":-3.68,"y":-0.7},{"k":"Ab","x":-3.42,"y":-0.42},{"k":"Ab","x":-3.21,"y":-0.01},{"k":"Ab","x":-2.99,"y":0.34},{"k":"Ab","x":-2.82,"y":0.13},{"k":"Ab","x":-2.65,"y":-0.42},{"k":"Ab","x":-2.39,"y":-0.59},{"k":"Ab","x":-2.13,"y":-0.49},{"k":"Ab","x":-1.87,"y":-0.66},{"k":"Ab","x":-1.62,"y":-0.84},{"k":"Ab","x":-1.36,"y":-0.96},{"k":"Ab","x":-1.01,"y":-0.97},{"k":"Ab","x":-0.67,"y":-1.18},{"k":"Ab","x":-0.33,"y":-1.32},{"k":"Ab","x":0.02,"y":-1.15},{"k":"Ab","x":0.36,"y":-1.26},{"k":"Ab","x":0.7,"y":-1.15},{"k":"Ab","x":1.05,"y":-1.32},{"k":"Ab","x":1.39,"y":-1.35},{"k":"Ab","x":1.74,"y":-1.47},{"k":"Ab","x":2.08,"y":-1.46},{"k":"Ab","x":2.42,"y":-1.54},{"k":"Ab","x":2.77,"y":-1.46},{"k":"Ab","x":3.11,"y":-1.6},{"k":"Ab","x":3.45,"y":-1.66},{"k":"Ab","x":3.8,"y":-1.73},{"k":"Ab","x":4.14,"y":-1.77},{"k":"Ab","x":4.48,"y":-1.8},{"k":"Ab","x":4.83,"y":-1.87},{"k":"Ab","x":5.17,"y":-2.01},{"k":"Ab","x":5.34,"y":-2.22},{"k":"Ab","x":5.41,"y":-4.1},{"k":"Ab","x":5.99,"y":-4.1},{"k":"Ab","x":6.03,"y":-2.91},{"k":"Ab","x":6.17,"y":-2.36},{"k":"Ab","x":6.37,"y":-2.18},{"k":"Ab","x":6.55,"y":-2.39},{"k":"Ab","x":6.8,"y":-2.15},{"k":"Ab","x":7.23,"y":-2.04},{"k":"Ab","x":7.75,"y":-2.01},{"k":"Ab","x":8.26,"y":-1.94},{"k":"Ab","x":8.78,"y":-1.87},{"k":"Ab","x":9.3,"y":-1.77},{"k":"Ab","x":9.81,"y":-1.73},{"k":"Ab","x":10.33,"y":-1.8},{"k":"Ab","x":10.84,"y":-1.84},{"k":"Ab","x":11.27,"y":-1.73},{"k":"Ab","x":11.56,"y":-1.56},{"k":"Ab","x":11.79,"y":-1.32},{"k":"Ab","x":12.04,"y":-1.53},{"k":"Ab","x":12.39,"y":-1.46},{"k":"Ab","x":12.73,"y":-1.33},{"k":"Ab","x":13.08,"y":-1.49},{"k":"Ab","x":13.33,"y":-1.39},
{"k":"L","x":-6.51,"y":1.1},{"k":"L","x":-6.31,"y":0.93},{"k":"L","x":-6.13,"y":0.68},{"k":"L","x":-5.91,"y":0.48},{"k":"L","x":-5.62,"y":0.37},{"k":"L","x":-5.45,"y":0.3},{"k":"L","x":-5.31,"y":0.06},{"k":"L","x":-5.21,"y":-0.28},{"k":"L","x":-5.27,"y":-0.7},{"k":"L","x":-5.45,"y":-0.84},{"k":"L","x":-5.65,"y":-0.94},{"k":"L","x":-5.86,"y":-1.33},{"k":"L","x":-6.08,"y":-1.11},{"k":"L","x":-6.31,"y":-1.13},{"k":"L","x":-6.44,"y":-1.32},{"k":"L","x":-6.51,"y":-1.25},
{"k":"Bt","x":-2.01,"y":0.13},{"k":"Bt","x":-2.08,"y":0.41},{"k":"Bt","x":-1.91,"y":0.75},{"k":"Bt","x":-1.7,"y":0.96},{"k":"Bt","x":-1.44,"y":1.17},{"k":"Bt","x":-1.19,"y":1.34},{"k":"Bt","x":-0.93,"y":1.51},{"k":"Bt","x":-0.58,"y":1.69},{"k":"Bt","x":-0.15,"y":1.86},{"k":"Bt","x":0.36,"y":1.96},{"k":"Bt","x":0.88,"y":2.0},{"k":"Bt","x":1.31,"y":1.93},{"k":"Bt","x":1.74,"y":1.93},{"k":"Bt","x":2.25,"y":1.82},{"k":"Bt","x":2.77,"y":1.79},{"k":"Bt","x":3.37,"y":1.72},{"k":"Bt","x":3.97,"y":1.62},{"k":"Bt","x":4.66,"y":1.51},{"k":"Bt","x":5.34,"y":1.44},{"k":"Bt","x":6.03,"y":1.41},{"k":"Bt","x":6.63,"y":1.36},{"k":"Bt","x":7.06,"y":1.24},{"k":"Bt","x":7.49,"y":1.06},{"k":"Bt","x":8.01,"y":0.96},{"k":"Bt","x":8.61,"y":0.92},{"k":"Bt","x":9.3,"y":0.96},{"k":"Bt","x":9.98,"y":0.92},{"k":"Bt","x":10.67,"y":0.92},{"k":"Bt","x":11.19,"y":0.75},{"k":"Bt","x":11.49,"y":0.23},{"k":"Bt","x":11.7,"y":0.37},{"k":"Bt","x":12.01,"y":0.41},{"k":"Bt","x":12.25,"y":0.34},{"k":"Bt","x":12.56,"y":0.55},{"k":"Bt","x":12.94,"y":0.81},{"k":"Bt","x":13.33,"y":0.96},
{"k":"Bb","x":-2.01,"y":0.13},{"k":"Bb","x":-1.96,"y":-0.15},{"k":"Bb","x":-1.79,"y":-0.42},{"k":"Bb","x":-1.67,"y":-0.77},{"k":"Bb","x":-1.36,"y":-0.73},{"k":"Bb","x":-0.93,"y":-0.84},{"k":"Bb","x":-0.5,"y":-0.92},{"k":"Bb","x":0.02,"y":-0.97},{"k":"Bb","x":0.53,"y":-1.04},{"k":"Bb","x":1.05,"y":-1.1},{"k":"Bb","x":1.56,"y":-1.15},{"k":"Bb","x":2.08,"y":-1.22},{"k":"Bb","x":2.77,"y":-1.28},{"k":"Bb","x":3.45,"y":-1.35},{"k":"Bb","x":4.14,"y":-1.42},{"k":"Bb","x":4.83,"y":-1.49},{"k":"Bb","x":5.52,"y":-1.58},{"k":"Bb","x":6.2,"y":-1.63},{"k":"Bb","x":6.89,"y":-1.61},{"k":"Bb","x":7.58,"y":-1.53},{"k":"Bb","x":8.26,"y":-1.42},{"k":"Bb","x":8.95,"y":-1.28},{"k":"Bb","x":9.64,"y":-1.15},{"k":"Bb","x":10.33,"y":-0.97},{"k":"Bb","x":11.01,"y":-0.8},{"k":"Bb","x":11.7,"y":-0.56},{"k":"Bb","x":12.22,"y":-0.35},{"k":"Bb","x":12.56,"y":-0.28},{"k":"Bb","x":12.9,"y":-0.42},{"k":"Bb","x":13.33,"y":-0.39},
{"k":"C","x":-1.15,"y":-0.01},{"k":"C","x":-1.1,"y":0.34},{"k":"C","x":-0.84,"y":0.75},{"k":"C","x":-0.5,"y":1.1},{"k":"C","x":0.02,"y":1.34},{"k":"C","x":0.7,"y":1.48},{"k":"C","x":1.39,"y":1.51},{"k":"C","x":2.08,"y":1.44},{"k":"C","x":2.77,"y":1.39},{"k":"C","x":3.45,"y":1.32},{"k":"C","x":4.14,"y":1.24},{"k":"C","x":4.83,"y":1.13},{"k":"C","x":5.52,"y":1.03},{"k":"C","x":6.2,"y":0.91},{"k":"C","x":6.89,"y":0.75},{"k":"C","x":7.58,"y":0.61},{"k":"C","x":8.18,"y":0.44},{"k":"C","x":8.52,"y":0.2},{"k":"C","x":8.61,"y":-0.08},{"k":"C","x":8.47,"y":-0.35},{"k":"C","x":8.18,"y":-0.59},{"k":"C","x":7.75,"y":-0.8},{"k":"C","x":7.23,"y":-0.94},{"k":"C","x":6.55,"y":-1.01},{"k":"C","x":5.86,"y":-0.99},{"k":"C","x":5.17,"y":-0.92},{"k":"C","x":4.48,"y":-0.85},{"k":"C","x":3.8,"y":-0.77},{"k":"C","x":3.11,"y":-0.68},{"k":"C","x":2.42,"y":-0.59},{"k":"C","x":1.74,"y":-0.49},{"k":"C","x":1.05,"y":-0.39},{"k":"C","x":0.36,"y":-0.28},{"k":"C","x":-0.33,"y":-0.18},{"k":"C","x":-0.84,"y":-0.11},{"k":"C","x":-1.15,"y":-0.01},
{"k":"D","x":-0.46,"y":-0.01},{"k":"D","x":-0.41,"y":0.41},{"k":"D","x":-0.15,"y":0.75},{"k":"D","x":0.27,"y":0.99},{"k":"D","x":0.88,"y":1.1},{"k":"D","x":1.56,"y":1.1},{"k":"D","x":2.16,"y":0.96},{"k":"D","x":2.77,"y":0.82},{"k":"D","x":3.45,"y":0.75},{"k":"D","x":4.14,"y":0.68},{"k":"D","x":4.83,"y":0.58},{"k":"D","x":5.52,"y":0.48},{"k":"D","x":6.2,"y":0.34},{"k":"D","x":6.89,"y":0.2},{"k":"D","x":7.58,"y":0.1},{"k":"D","x":7.89,"y":-0.08},{"k":"D","x":7.86,"y":-0.32},{"k":"D","x":7.58,"y":-0.53},{"k":"D","x":7.06,"y":-0.66},{"k":"D","x":6.37,"y":-0.72},{"k":"D","x":5.69,"y":-0.69},{"k":"D","x":5.0,"y":-0.59},{"k":"D","x":4.31,"y":-0.49},{"k":"D","x":3.63,"y":-0.39},{"k":"D","x":2.94,"y":-0.28},{"k":"D","x":2.25,"y":-0.18},{"k":"D","x":1.56,"y":-0.13},{"k":"D","x":0.88,"y":-0.09},{"k":"D","x":0.27,"y":-0.08},{"k":"D","x":-0.24,"y":-0.06},{"k":"D","x":-0.46,"y":-0.01},
{"k":"G1","x":0.19,"y":0.68},{"k":"G1","x":0.45,"y":0.96},{"k":"G1","x":0.79,"y":1.03},{"k":"G1","x":1.31,"y":0.93},{"k":"G1","x":1.74,"y":0.72},{"k":"G1","x":1.91,"y":0.48},{"k":"G1","x":1.87,"y":0.23},{"k":"G1","x":1.56,"y":0.01},{"k":"G1","x":1.22,"y":0.06},{"k":"G1","x":0.7,"y":0.23},{"k":"G1","x":0.36,"y":0.41},{"k":"G1","x":0.19,"y":0.68},
{"k":"G2","x":4.74,"y":0.2},{"k":"G2","x":5.0,"y":0.26},{"k":"G2","x":5.31,"y":0.13},{"k":"G2","x":5.43,"y":-0.15},{"k":"G2","x":5.34,"y":-0.35},{"k":"G2","x":5.17,"y":-0.42},{"k":"G2","x":4.97,"y":-0.28},{"k":"G2","x":4.83,"y":-0.08},{"k":"G2","x":4.57,"y":-0.01},{"k":"G2","x":4.66,"y":0.08},{"k":"G2","x":4.74,"y":0.2},
{"k":"G3","x":8.87,"y":0.03},{"k":"G3","x":9.12,"y":0.17},{"k":"G3","x":9.47,"y":0.2},{"k":"G3","x":9.78,"y":0.23},{"k":"G3","x":10.02,"y":0.06},{"k":"G3","x":10.07,"y":-0.18},{"k":"G3","x":9.9,"y":-0.35},{"k":"G3","x":9.55,"y":-0.37},{"k":"G3","x":9.3,"y":-0.42},{"k":"G3","x":9.16,"y":-0.21},{"k":"G3","x":8.95,"y":-0.15},{"k":"G3","x":8.87,"y":0.03},
{"k":"T1","x":2.42,"y":4.1},{"k":"T1","x":2.49,"y":3.2},{"k":"T1","x":2.63,"y":4.1},
{"k":"T2","x":3.6,"y":4.1},{"k":"T2","x":3.75,"y":3.1},{"k":"T2","x":3.9,"y":4.1},
{"k":"T3","x":4.65,"y":4.1},{"k":"T3","x":4.83,"y":3.3},{"k":"T3","x":4.95,"y":4.1},
{"k":"T4","x":5.2,"y":4.1},{"k":"T4","x":5.35,"y":2.9},{"k":"T4","x":5.5,"y":4.1},
{"k":"S1","x":7.23,"y":-4.1},{"k":"S1","x":7.28,"y":-2.98},{"k":"S1","x":7.36,"y":-4.1},
{"k":"S2","x":7.58,"y":-4.1},{"k":"S2","x":7.7,"y":-3.46},{"k":"S2","x":7.84,"y":-4.1},
{"k":"s1","x":7.53,"y":3.28},{"k":"s1","x":7.53,"y":2.65},
{"k":"s2","x":-4.85,"y":-0.1},{"k":"s2","x":-4.85,"y":-0.24},
{"k":"s3","x":-2.4,"y":-2.35},{"k":"s3","x":-2.4,"y":-2.49},
{"k":"s4","x":-1.5,"y":-1.8},{"k":"s4","x":-1.45,"y":-2.4},{"k":"s4","x":-1.5,"y":-2.97},{"k":"s4","x":-1.55,"y":-2.4},{"k":"s4","x":-1.5,"y":-1.8},
{"k":"s5","x":7.53,"y":-3.18},{"k":"s5","x":7.53,"y":-4.05}
],
"n3":[
{"k":"d1","x":-5.1,"y":2.97},{"k":"d1","x":-5.05,"y":2.3},{"k":"d1","x":-5.0,"y":1.66},
{"k":"d2","x":9.5,"y":3.21},{"k":"d2","x":9.45,"y":2.8},{"k":"d2","x":9.47,"y":2.38},
{"k":"d3","x":-5.96,"y":-2.69},{"k":"d3","x":-6.0,"y":-3.3},{"k":"d3","x":-6.05,"y":-3.94},
{"k":"d4","x":0.31,"y":-1.8},{"k":"d4","x":0.35,"y":-2.15},{"k":"d4","x":0.4,"y":-2.49},
{"k":"d5","x":0.82,"y":-1.69},{"k":"d5","x":0.88,"y":-2.3},{"k":"d5","x":0.91,"y":-2.83},
{"k":"d6","x":1.17,"y":-1.59},{"k":"d6","x":1.19,"y":-2.38},
{"k":"d7","x":2.2,"y":-1.93},{"k":"d7","x":2.05,"y":-2.5},{"k":"d7","x":2.2,"y":-3.2},{"k":"d7","x":2.45,"y":-3.94},
{"k":"d8","x":2.5,"y":-1.93},{"k":"d8","x":2.8,"y":-2.7},{"k":"d8","x":2.75,"y":-3.94},
{"k":"d9","x":3.75,"y":-3.25},{"k":"d9","x":3.78,"y":-3.94},
{"k":"d10","x":12.25,"y":-1.66},{"k":"d10","x":12.25,"y":-1.93}
]
},
"hconcat":[
{"width":384,"height":385,"resolve":{"axis":{"x":"independent","y":"independent"}},
"layer":[
{"data":{"name":"c1"},"mark":{"type":"line","color":"black","strokeWidth":1.1,"clip":true},
"encoding":{"x":{"field":"x","type":"quantitative","scale":{"domain":[-6.45,13.3],"nice":false,"zero":false},"axis":{"orient":"bottom","values":[-5,0,5,10],"ticks":false,"labelPadding":10,"title":"Vₗₛᵣ (km s⁻¹)","titlePadding":5}},
"y":{"field":"y","type":"quantitative","scale":{"domain":[-4,4],"nice":false,"zero":false},"axis":{"orient":"left","values":[-4,-2,0,2,4],"ticks":false,"labelPadding":5,"labelFlush":true,"title":"Offset from Source A (arcsec)","titlePadding":8}},
"detail":{"field":"k"},"order":{"value":null}}},
{"data":{"name":"n1"},"mark":{"type":"line","color":"black","strokeWidth":1,"strokeDash":[1.2,2.2],"clip":true},
"encoding":{"x":{"field":"x","type":"quantitative","scale":{"domain":[-6.45,13.3],"nice":false,"zero":false},"axis":{"orient":"bottom","values":[-5,0,5,10],"labels":false,"title":null,"tickSize":8,"offset":-8}},
"y":{"field":"y","type":"quantitative","scale":{"domain":[-4,4],"nice":false,"zero":false},"axis":{"orient":"left","values":[-4,-2,0,2,4],"labels":false,"title":null,"tickSize":9,"offset":-9}},
"detail":{"field":"k"},"order":{"value":null}}},
{"data":{"name":"red"},"mark":{"type":"line","color":"#ff0000","strokeWidth":2,"strokeDash":[6,4]},
"encoding":{"x":{"field":"x","type":"quantitative","scale":{"domain":[-6.45,13.3],"nice":false,"zero":false},"axis":{"orient":"top","values":[-5,0,5,10],"labels":false,"title":null,"tickSize":8,"offset":-8}},
"y":{"field":"y","type":"quantitative","scale":{"domain":[-4,4],"nice":false,"zero":false},"axis":{"orient":"right","values":[-4,-2,0,2,4],"labels":false,"title":null,"tickSize":9,"offset":-9}}}},
{"data":{"name":"dot"},"mark":{"type":"point","filled":true,"color":"#ff0000","size":100,"opacity":1},
"encoding":{"x":{"field":"x","type":"quantitative","scale":{"domain":[-6.45,13.3],"nice":false,"zero":false},"axis":{"orient":"bottom","values":[-6,-4,-3,-2,-1,1,2,3,4,6,7,8,9,11,12,13],"labels":false,"title":null,"tickSize":4,"offset":-4}},
"y":{"field":"y","type":"quantitative","scale":{"domain":[-4,4],"nice":false,"zero":false},"axis":{"orient":"left","values":[-3.6,-3.2,-2.8,-2.4,-1.6,-1.2,-0.8,-0.4,0.4,0.8,1.2,1.6,2.4,2.8,3.2,3.6],"labels":false,"title":null,"tickSize":5,"offset":-5}}}},
{"data":{"name":"b1"},"mark":{"type":"rule","color":"#0000ff","strokeWidth":2},
"encoding":{"x":{"field":"x","type":"quantitative","scale":{"domain":[-6.45,13.3],"nice":false,"zero":false},"axis":{"orient":"top","values":[-6,-4,-3,-2,-1,1,2,3,4,6,7,8,9,11,12,13],"labels":false,"title":null,"tickSize":4,"offset":-4}},
"y":{"field":"y","type":"quantitative","scale":{"domain":[-4,4],"nice":false,"zero":false},"axis":{"orient":"right","values":[-3.6,-3.2,-2.8,-2.4,-1.6,-1.2,-0.8,-0.4,0.4,0.8,1.2,1.6,2.4,2.8,3.2,3.6],"labels":false,"title":null,"tickSize":5,"offset":-5}},"y2":{"field":"y2"}}},
{"data":{"name":"res"},"mark":{"type":"rect","fill":"white","stroke":"black","strokeWidth":1.3},
"encoding":{"x":{"field":"x","type":"quantitative","scale":{"domain":[-6.45,13.3],"nice":false,"zero":false},"axis":null},"x2":{"field":"x2"},"y":{"field":"y","type":"quantitative","scale":{"domain":[-4,4],"nice":false,"zero":false},"axis":null},"y2":{"field":"y2"}}},
{"data":{"name":"res"},"mark":{"type":"text","angle":270,"align":"left","baseline":"alphabetic","fontSize":18,"color":"black"},
"encoding":{"x":{"field":"tx","type":"quantitative","scale":{"domain":[-6.45,13.3],"nice":false,"zero":false},"axis":null},"y":{"field":"y","type":"quantitative","scale":{"domain":[-4,4],"nice":false,"zero":false},"axis":null},"text":{"field":"t"}}},
{"data":{"name":"t1"},"mark":{"type":"text","align":"left","baseline":"alphabetic","fontSize":14,"color":"black"},
"encoding":{"x":{"field":"x","type":"quantitative","scale":{"domain":[-6.45,13.3],"nice":false,"zero":false},"axis":null},"y":{"field":"y","type":"quantitative","scale":{"domain":[-4,4],"nice":false,"zero":false},"axis":null},"text":{"field":"t"}}}
]},
{"width":384,"height":385,"resolve":{"axis":{"x":"independent","y":"independent"}},
"layer":[
{"data":{"name":"c2"},"mark":{"type":"line","color":"black","strokeWidth":1.1,"clip":true},
"encoding":{"x":{"field":"x","type":"quantitative","scale":{"domain":[-6.45,13.3],"nice":false,"zero":false},"axis":{"orient":"bottom","values":[-5,0,5,10],"ticks":false,"labelPadding":10,"title":null}},
"y":{"field":"y","type":"quantitative","scale":{"domain":[-4,4],"nice":false,"zero":false},"axis":null},
"detail":{"field":"k"},"order":{"value":null}}},
{"data":{"name":"n2"},"mark":{"type":"line","color":"black","strokeWidth":1,"strokeDash":[1.2,2.2],"clip":true},
"encoding":{"x":{"field":"x","type":"quantitative","scale":{"domain":[-6.45,13.3],"nice":false,"zero":false},"axis":{"orient":"bottom","values":[-5,0,5,10],"labels":false,"title":null,"tickSize":8,"offset":-8}},
"y":{"field":"y","type":"quantitative","scale":{"domain":[-4,4],"nice":false,"zero":false},"axis":{"orient":"left","values":[-4,-2,0,2,4],"labels":false,"title":null,"tickSize":9,"offset":-9}},
"detail":{"field":"k"},"order":{"value":null}}},
{"data":{"name":"red"},"mark":{"type":"line","color":"#ff0000","strokeWidth":2,"strokeDash":[6,4]},
"encoding":{"x":{"field":"x","type":"quantitative","scale":{"domain":[-6.45,13.3],"nice":false,"zero":false},"axis":{"orient":"top","values":[-5,0,5,10],"labels":false,"title":null,"tickSize":8,"offset":-8}},
"y":{"field":"y","type":"quantitative","scale":{"domain":[-4,4],"nice":false,"zero":false},"axis":{"orient":"right","values":[-4,-2,0,2,4],"labels":false,"title":null,"tickSize":9,"offset":-9}}}},
{"data":{"name":"dot"},"mark":{"type":"point","filled":true,"color":"#ff0000","size":100,"opacity":1},
"encoding":{"x":{"field":"x","type":"quantitative","scale":{"domain":[-6.45,13.3],"nice":false,"zero":false},"axis":{"orient":"bottom","values":[-6,-4,-3,-2,-1,1,2,3,4,6,7,8,9,11,12,13],"labels":false,"title":null,"tickSize":4,"offset":-4}},
"y":{"field":"y","type":"quantitative","scale":{"domain":[-4,4],"nice":false,"zero":false},"axis":{"orient":"left","values":[-3.6,-3.2,-2.8,-2.4,-1.6,-1.2,-0.8,-0.4,0.4,0.8,1.2,1.6,2.4,2.8,3.2,3.6],"labels":false,"title":null,"tickSize":5,"offset":-5}}}},
{"data":{"name":"b2"},"mark":{"type":"rule","color":"#0000ff","strokeWidth":2},
"encoding":{"x":{"field":"x","type":"quantitative","scale":{"domain":[-6.45,13.3],"nice":false,"zero":false},"axis":{"orient":"top","values":[-6,-4,-3,-2,-1,1,2,3,4,6,7,8,9,11,12,13],"labels":false,"title":null,"tickSize":4,"offset":-4}},
"y":{"field":"y","type":"quantitative","scale":{"domain":[-4,4],"nice":false,"zero":false},"axis":{"orient":"right","values":[-3.6,-3.2,-2.8,-2.4,-1.6,-1.2,-0.8,-0.4,0.4,0.8,1.2,1.6,2.4,2.8,3.2,3.6],"labels":false,"title":null,"tickSize":5,"offset":-5}},"y2":{"field":"y2"}}},
{"data":{"name":"res"},"mark":{"type":"rect","fill":"#999999","stroke":"black","strokeWidth":1.3},
"encoding":{"x":{"field":"x","type":"quantitative","scale":{"domain":[-6.45,13.3],"nice":false,"zero":false},"axis":null},"x2":{"field":"x2"},"y":{"field":"y","type":"quantitative","scale":{"domain":[-4,4],"nice":false,"zero":false},"axis":null},"y2":{"field":"y2"}}},
{"data":{"name":"res"},"mark":{"type":"text","angle":270,"align":"left","baseline":"alphabetic","fontSize":18,"color":"black"},
"encoding":{"x":{"field":"tx","type":"quantitative","scale":{"domain":[-6.45,13.3],"nice":false,"zero":false},"axis":null},"y":{"field":"y","type":"quantitative","scale":{"domain":[-4,4],"nice":false,"zero":false},"axis":null},"text":{"field":"t"}}},
{"data":{"name":"t2"},"mark":{"type":"text","align":"left","baseline":"alphabetic","fontSize":14,"color":"black"},
"encoding":{"x":{"field":"x","type":"quantitative","scale":{"domain":[-6.45,13.3],"nice":false,"zero":false},"axis":null},"y":{"field":"y","type":"quantitative","scale":{"domain":[-4,4],"nice":false,"zero":false},"axis":null},"text":{"field":"t"}}}
]},
{"width":384,"height":385,"resolve":{"axis":{"x":"independent","y":"independent"}},
"layer":[
{"data":{"name":"c3"},"mark":{"type":"line","color":"black","strokeWidth":1.1,"clip":true},
"encoding":{"x":{"field":"x","type":"quantitative","scale":{"domain":[-6.45,13.3],"nice":false,"zero":false},"axis":{"orient":"bottom","values":[-5,0,5,10],"ticks":false,"labelPadding":10,"title":null}},
"y":{"field":"y","type":"quantitative","scale":{"domain":[-4,4],"nice":false,"zero":false},"axis":null},
"detail":{"field":"k"},"order":{"value":null}}},
{"data":{"name":"n3"},"mark":{"type":"line","color":"black","strokeWidth":1,"strokeDash":[1.2,2.2],"clip":true},
"encoding":{"x":{"field":"x","type":"quantitative","scale":{"domain":[-6.45,13.3],"nice":false,"zero":false},"axis":{"orient":"bottom","values":[-5,0,5,10],"labels":false,"title":null,"tickSize":8,"offset":-8}},
"y":{"field":"y","type":"quantitative","scale":{"domain":[-4,4],"nice":false,"zero":false},"axis":{"orient":"left","values":[-4,-2,0,2,4],"labels":false,"title":null,"tickSize":9,"offset":-9}},
"detail":{"field":"k"},"order":{"value":null}}},
{"data":{"name":"red"},"mark":{"type":"line","color":"#ff0000","strokeWidth":2,"strokeDash":[6,4]},
"encoding":{"x":{"field":"x","type":"quantitative","scale":{"domain":[-6.45,13.3],"nice":false,"zero":false},"axis":{"orient":"top","values":[-5,0,5,10],"labels":false,"title":null,"tickSize":8,"offset":-8}},
"y":{"field":"y","type":"quantitative","scale":{"domain":[-4,4],"nice":false,"zero":false},"axis":{"orient":"right","values":[-4,-2,0,2,4],"labels":false,"title":null,"tickSize":9,"offset":-9}}}},
{"data":{"name":"dot"},"mark":{"type":"point","filled":true,"color":"#ff0000","size":100,"opacity":1},
"encoding":{"x":{"field":"x","type":"quantitative","scale":{"domain":[-6.45,13.3],"nice":false,"zero":false},"axis":{"orient":"bottom","values":[-6,-4,-3,-2,-1,1,2,3,4,6,7,8,9,11,12,13],"labels":false,"title":null,"tickSize":4,"offset":-4}},
"y":{"field":"y","type":"quantitative","scale":{"domain":[-4,4],"nice":false,"zero":false},"axis":{"orient":"left","values":[-3.6,-3.2,-2.8,-2.4,-1.6,-1.2,-0.8,-0.4,0.4,0.8,1.2,1.6,2.4,2.8,3.2,3.6],"labels":false,"title":null,"tickSize":5,"offset":-5}}}},
{"data":{"name":"b3"},"mark":{"type":"rule","color":"#0000ff","strokeWidth":2},
"encoding":{"x":{"field":"x","type":"quantitative","scale":{"domain":[-6.45,13.3],"nice":false,"zero":false},"axis":{"orient":"top","values":[-6,-4,-3,-2,-1,1,2,3,4,6,7,8,9,11,12,13],"labels":false,"title":null,"tickSize":4,"offset":-4}},
"y":{"field":"y","type":"quantitative","scale":{"domain":[-4,4],"nice":false,"zero":false},"axis":{"orient":"right","values":[-3.6,-3.2,-2.8,-2.4,-1.6,-1.2,-0.8,-0.4,0.4,0.8,1.2,1.6,2.4,2.8,3.2,3.6],"labels":false,"title":null,"tickSize":5,"offset":-5}},"y2":{"field":"y2"}}},
{"data":{"name":"res"},"mark":{"type":"rect","fill":"white","stroke":"black","strokeWidth":1.3},
"encoding":{"x":{"field":"x","type":"quantitative","scale":{"domain":[-6.45,13.3],"nice":false,"zero":false},"axis":null},"x2":{"field":"x2"},"y":{"field":"y","type":"quantitative","scale":{"domain":[-4,4],"nice":false,"zero":false},"axis":null},"y2":{"field":"y2"}}},
{"data":{"name":"res"},"mark":{"type":"text","angle":270,"align":"left","baseline":"alphabetic","fontSize":18,"color":"black"},
"encoding":{"x":{"field":"tx","type":"quantitative","scale":{"domain":[-6.45,13.3],"nice":false,"zero":false},"axis":null},"y":{"field":"y","type":"quantitative","scale":{"domain":[-4,4],"nice":false,"zero":false},"axis":null},"text":{"field":"t"}}},
{"data":{"name":"t3"},"mark":{"type":"text","align":"left","baseline":"alphabetic","fontSize":14,"color":"black"},
"encoding":{"x":{"field":"x","type":"quantitative","scale":{"domain":[-6.45,13.3],"nice":false,"zero":false},"axis":null},"y":{"field":"y","type":"quantitative","scale":{"domain":[-4,4],"nice":false,"zero":false},"axis":null},"text":{"field":"t"}}}
]}
]
}
